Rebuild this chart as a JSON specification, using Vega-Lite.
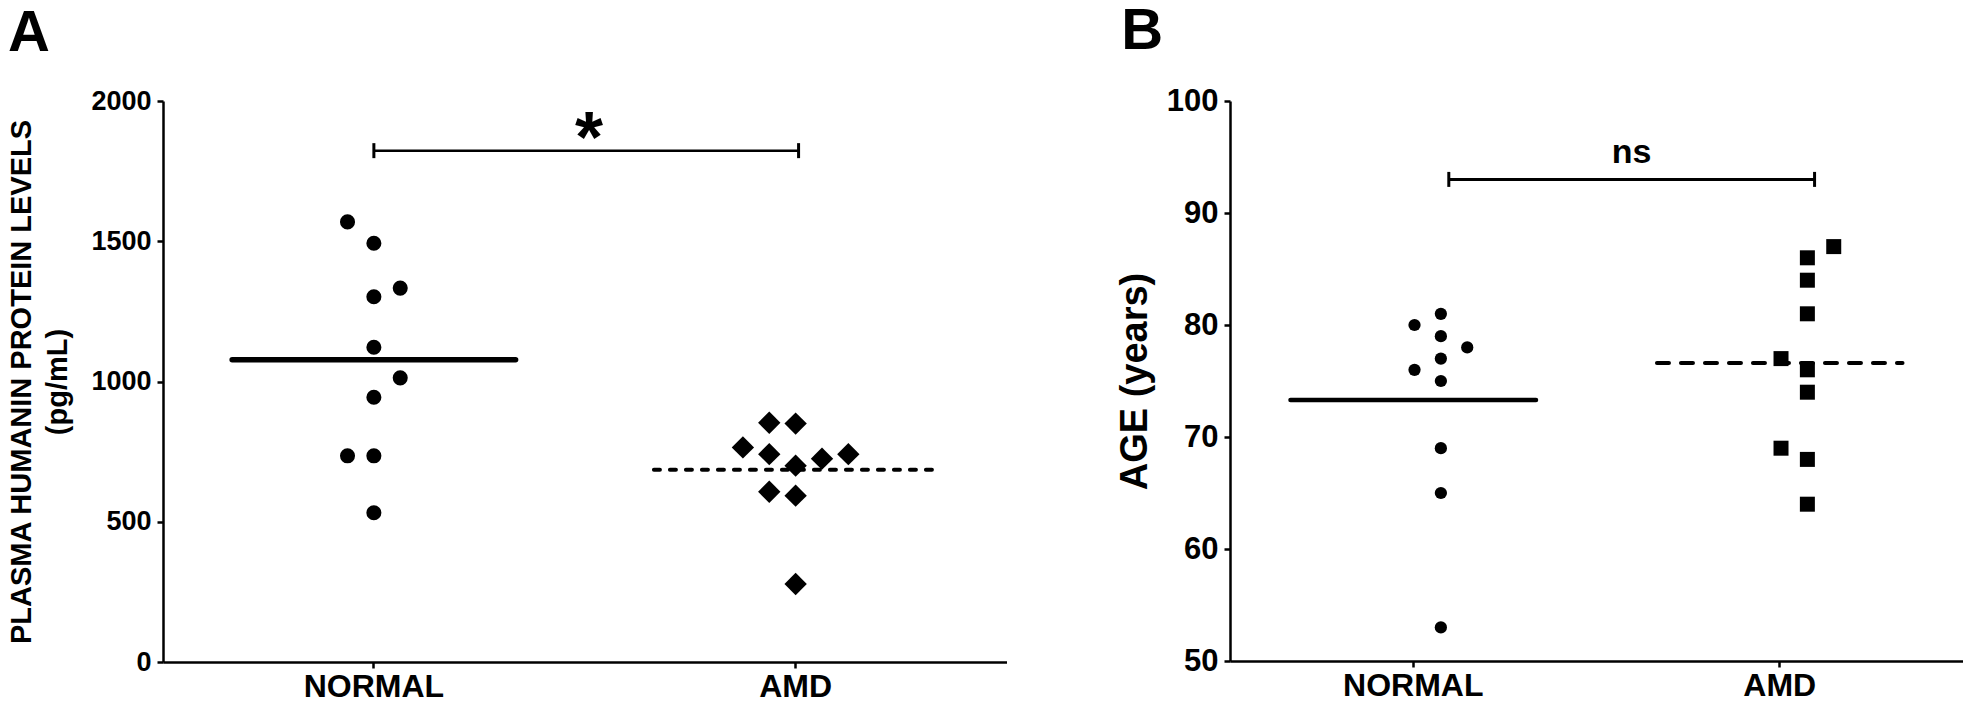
{
  "$schema": "https://vega.github.io/schema/vega-lite/v6.json",
  "background": "white",
  "padding": {"left": 7, "top": 3, "right": 0, "bottom": 0},
  "config": {
    "font": "Liberation Sans",
    "view": {"stroke": null},
    "axis": {"domainColor": "black", "domainWidth": 2.5, "tickColor": "black", "tickWidth": 2.5, "tickSize": 6, "labelColor": "black", "labelFontWeight": "bold", "titleFontWeight": "bold", "titleColor": "black", "grid": false, "labelFont": "Liberation Sans", "titleFont": "Liberation Sans"},
    "title": {"font": "Liberation Sans", "fontWeight": "bold", "fontSize": 58, "anchor": "start", "frame": "bounds", "color": "black", "offset": 24},
    "concat": {"spacing": 109}
  },
  "datasets": {
    "humanin": [
      {"group": "NORMAL", "value": 1569, "col": -1},
      {"group": "NORMAL", "value": 1493, "col": 0},
      {"group": "NORMAL", "value": 1333, "col": 1},
      {"group": "NORMAL", "value": 1302, "col": 0},
      {"group": "NORMAL", "value": 1122, "col": 0},
      {"group": "NORMAL", "value": 1013, "col": 1},
      {"group": "NORMAL", "value": 944, "col": 0},
      {"group": "NORMAL", "value": 735, "col": -1},
      {"group": "NORMAL", "value": 735, "col": 0},
      {"group": "NORMAL", "value": 532, "col": 0},
      {"group": "AMD", "value": 853, "col": -1},
      {"group": "AMD", "value": 850, "col": 0},
      {"group": "AMD", "value": 765, "col": -2},
      {"group": "AMD", "value": 741, "col": -1},
      {"group": "AMD", "value": 725, "col": 1},
      {"group": "AMD", "value": 741, "col": 2},
      {"group": "AMD", "value": 700, "col": 0},
      {"group": "AMD", "value": 607, "col": -1},
      {"group": "AMD", "value": 593, "col": 0},
      {"group": "AMD", "value": 278, "col": 0}
    ],
    "age": [
      {"group": "NORMAL", "value": 81, "col": 0},
      {"group": "NORMAL", "value": 80, "col": -1},
      {"group": "NORMAL", "value": 79, "col": 0},
      {"group": "NORMAL", "value": 78, "col": 1},
      {"group": "NORMAL", "value": 77, "col": 0},
      {"group": "NORMAL", "value": 76, "col": -1},
      {"group": "NORMAL", "value": 75, "col": 0},
      {"group": "NORMAL", "value": 69, "col": 0},
      {"group": "NORMAL", "value": 65, "col": 0},
      {"group": "NORMAL", "value": 53, "col": 0},
      {"group": "AMD", "value": 87, "col": 1},
      {"group": "AMD", "value": 86, "col": 0},
      {"group": "AMD", "value": 84, "col": 0},
      {"group": "AMD", "value": 81, "col": 0},
      {"group": "AMD", "value": 77, "col": -1},
      {"group": "AMD", "value": 76, "col": 0},
      {"group": "AMD", "value": 74, "col": 0},
      {"group": "AMD", "value": 69, "col": -1},
      {"group": "AMD", "value": 68, "col": 0},
      {"group": "AMD", "value": 64, "col": 0}
    ],
    "sigA": [{"from": "NORMAL", "to": "AMD", "value": 1823, "label": "*"}],
    "sigB": [{"from": "NORMAL", "to": "AMD", "value": 93, "label": "ns"}]
  },
  "hconcat": [
    {
      "width": 843.5,
      "height": 561,
      "title": {"text": "A"},
      "data": {"name": "humanin"},
      "encoding": {
        "x": {"field": "group", "type": "nominal", "scale": {"type": "band", "domain": ["NORMAL", "AMD"], "paddingInner": 0, "paddingOuter": 0}, "axis": {"title": null, "labelAngle": 0, "labelFontSize": 32, "labelPadding": 3}},
        "y": {"field": "value", "type": "quantitative", "scale": {"domain": [0, 2000], "nice": false}, "axis": {"values": [0, 500, 1000, 1500, 2000], "format": "d", "title": ["PLASMA HUMANIN PROTEIN LEVELS", "(pg/mL)"], "titleFontSize": 29, "titleLineHeight": 36, "titlePadding": 18, "labelFontSize": 27, "labelPadding": 6}}
      },
      "layer": [
        {
          "transform": [{"filter": "datum.group === 'NORMAL'"}],
          "mark": {"type": "point", "shape": "circle", "filled": true, "size": 227, "color": "black", "opacity": 1, "strokeWidth": 0},
          "encoding": {"xOffset": {"field": "col", "type": "quantitative", "scale": {"domain": [-8, 8], "nice": false, "zero": false}}}
        },
        {
          "transform": [{"filter": "datum.group === 'AMD'"}],
          "mark": {"type": "point", "shape": "diamond", "filled": true, "size": 500, "color": "black", "opacity": 1, "strokeWidth": 0},
          "encoding": {"xOffset": {"field": "col", "type": "quantitative", "scale": {"domain": [-8, 8], "nice": false, "zero": false}}}
        },
        {
          "transform": [{"aggregate": [{"op": "mean", "field": "value", "as": "value"}], "groupby": ["group"]}, {"filter": "datum.group === 'NORMAL'"}],
          "mark": {"type": "rule", "color": "black", "strokeWidth": 5.5, "strokeCap": "round"},
          "encoding": {
            "x": {"field": "group", "type": "nominal", "bandPosition": 0.164, "scale": {"type": "band", "domain": ["NORMAL", "AMD"], "paddingInner": 0, "paddingOuter": 0}, "axis": {"title": null, "labelAngle": 0, "labelFontSize": 32, "labelPadding": 3}},
            "x2": {"field": "group", "bandPosition": 0.836}
          }
        },
        {
          "transform": [{"aggregate": [{"op": "mean", "field": "value", "as": "value"}], "groupby": ["group"]}, {"filter": "datum.group === 'AMD'"}],
          "mark": {"type": "rule", "color": "black", "strokeWidth": 4, "strokeCap": "round", "strokeDash": [6, 10]},
          "encoding": {
            "x": {"field": "group", "type": "nominal", "bandPosition": 0.164, "scale": {"type": "band", "domain": ["NORMAL", "AMD"], "paddingInner": 0, "paddingOuter": 0}, "axis": {"title": null, "labelAngle": 0, "labelFontSize": 32, "labelPadding": 3}},
            "x2": {"field": "group", "bandPosition": 0.836}
          }
        },
        {
          "data": {"name": "sigA"},
          "mark": {"type": "rule", "color": "black", "strokeWidth": 2.5},
          "encoding": {
            "x": {"field": "from", "type": "nominal", "bandPosition": 0.5, "scale": {"type": "band", "domain": ["NORMAL", "AMD"], "paddingInner": 0, "paddingOuter": 0}, "axis": {"title": null, "labelAngle": 0, "labelFontSize": 32, "labelPadding": 3}},
            "x2": {"field": "to", "bandPosition": 0.507}
          }
        },
        {
          "data": {"name": "sigA"},
          "mark": {"type": "point", "shape": "M0,-1L0,1", "filled": false, "size": 225, "color": "black", "strokeWidth": 3, "opacity": 1},
          "encoding": {
            "x": {"field": "from", "type": "nominal", "bandPosition": 0.5, "scale": {"type": "band", "domain": ["NORMAL", "AMD"], "paddingInner": 0, "paddingOuter": 0}, "axis": {"title": null, "labelAngle": 0, "labelFontSize": 32, "labelPadding": 3}}
          }
        },
        {
          "data": {"name": "sigA"},
          "mark": {"type": "point", "shape": "M0,-1L0,1", "filled": false, "size": 225, "color": "black", "strokeWidth": 3, "opacity": 1},
          "encoding": {
            "x": {"field": "to", "type": "nominal", "bandPosition": 0.507, "scale": {"type": "band", "domain": ["NORMAL", "AMD"], "paddingInner": 0, "paddingOuter": 0}, "axis": {"title": null, "labelAngle": 0, "labelFontSize": 32, "labelPadding": 3}}
          }
        },
        {
          "data": {"name": "sigA"},
          "mark": {"type": "text", "fontSize": 72, "fontWeight": "bold", "baseline": "alphabetic", "align": "center", "dy": 11, "color": "black"},
          "encoding": {
            "x": {"field": "from", "type": "nominal", "bandPosition": 1.01, "scale": {"type": "band", "domain": ["NORMAL", "AMD"], "paddingInner": 0, "paddingOuter": 0}, "axis": {"title": null, "labelAngle": 0, "labelFontSize": 32, "labelPadding": 3}},
            "text": {"field": "label"}
          }
        }
      ]
    },
    {
      "width": 733,
      "height": 560,
      "title": {"text": "B", "dx": 5},
      "data": {"name": "age"},
      "encoding": {
        "x": {"field": "group", "type": "nominal", "scale": {"type": "band", "domain": ["NORMAL", "AMD"], "paddingInner": 0, "paddingOuter": 0}, "axis": {"title": null, "labelAngle": 0, "labelFontSize": 32, "labelPadding": 3}},
        "y": {"field": "value", "type": "quantitative", "scale": {"domain": [50, 100], "nice": false, "zero": false}, "axis": {"values": [50, 60, 70, 80, 90, 100], "title": "AGE (years)", "titleFontSize": 38, "titlePadding": 12, "labelFontSize": 31, "labelPadding": 6}}
      },
      "layer": [
        {
          "transform": [{"filter": "datum.group === 'NORMAL'"}],
          "mark": {"type": "point", "shape": "circle", "filled": true, "size": 150, "color": "black", "opacity": 1, "strokeWidth": 0},
          "encoding": {"xOffset": {"field": "col", "type": "quantitative", "scale": {"domain": [-8, 8], "nice": false, "zero": false}}}
        },
        {
          "transform": [{"filter": "datum.group === 'AMD'"}],
          "mark": {"type": "point", "shape": "square", "filled": true, "size": 225, "color": "black", "opacity": 1, "strokeWidth": 0},
          "encoding": {"xOffset": {"field": "col", "type": "quantitative", "scale": {"domain": [-8, 8], "nice": false, "zero": false}}}
        },
        {
          "transform": [{"aggregate": [{"op": "mean", "field": "value", "as": "value"}], "groupby": ["group"]}, {"filter": "datum.group === 'NORMAL'"}],
          "mark": {"type": "rule", "color": "black", "strokeWidth": 4.5, "strokeCap": "round"},
          "encoding": {
            "x": {"field": "group", "type": "nominal", "bandPosition": 0.165, "scale": {"type": "band", "domain": ["NORMAL", "AMD"], "paddingInner": 0, "paddingOuter": 0}, "axis": {"title": null, "labelAngle": 0, "labelFontSize": 32, "labelPadding": 3}},
            "x2": {"field": "group", "bandPosition": 0.835}
          }
        },
        {
          "transform": [{"aggregate": [{"op": "mean", "field": "value", "as": "value"}], "groupby": ["group"]}, {"filter": "datum.group === 'AMD'"}],
          "mark": {"type": "rule", "color": "black", "strokeWidth": 4, "strokeCap": "round", "strokeDash": [12, 12]},
          "encoding": {
            "x": {"field": "group", "type": "nominal", "bandPosition": 0.165, "scale": {"type": "band", "domain": ["NORMAL", "AMD"], "paddingInner": 0, "paddingOuter": 0}, "axis": {"title": null, "labelAngle": 0, "labelFontSize": 32, "labelPadding": 3}},
            "x2": {"field": "group", "bandPosition": 0.835}
          }
        },
        {
          "data": {"name": "sigB"},
          "mark": {"type": "rule", "color": "black", "strokeWidth": 3},
          "encoding": {
            "x": {"field": "from", "type": "nominal", "bandPosition": 0.597, "scale": {"type": "band", "domain": ["NORMAL", "AMD"], "paddingInner": 0, "paddingOuter": 0}, "axis": {"title": null, "labelAngle": 0, "labelFontSize": 32, "labelPadding": 3}},
            "x2": {"field": "to", "bandPosition": 0.595}
          }
        },
        {
          "data": {"name": "sigB"},
          "mark": {"type": "point", "shape": "M0,-1L0,1", "filled": false, "size": 225, "color": "black", "strokeWidth": 3, "opacity": 1},
          "encoding": {
            "x": {"field": "from", "type": "nominal", "bandPosition": 0.597, "scale": {"type": "band", "domain": ["NORMAL", "AMD"], "paddingInner": 0, "paddingOuter": 0}, "axis": {"title": null, "labelAngle": 0, "labelFontSize": 32, "labelPadding": 3}}
          }
        },
        {
          "data": {"name": "sigB"},
          "mark": {"type": "point", "shape": "M0,-1L0,1", "filled": false, "size": 225, "color": "black", "strokeWidth": 3, "opacity": 1},
          "encoding": {
            "x": {"field": "to", "type": "nominal", "bandPosition": 0.595, "scale": {"type": "band", "domain": ["NORMAL", "AMD"], "paddingInner": 0, "paddingOuter": 0}, "axis": {"title": null, "labelAngle": 0, "labelFontSize": 32, "labelPadding": 3}}
          }
        },
        {
          "data": {"name": "sigB"},
          "mark": {"type": "text", "fontSize": 34, "fontWeight": "bold", "baseline": "alphabetic", "align": "center", "dy": -16, "color": "black"},
          "encoding": {
            "x": {"field": "from", "type": "nominal", "bandPosition": 1.096, "scale": {"type": "band", "domain": ["NORMAL", "AMD"], "paddingInner": 0, "paddingOuter": 0}, "axis": {"title": null, "labelAngle": 0, "labelFontSize": 32, "labelPadding": 3}},
            "text": {"field": "label"}
          }
        }
      ]
    }
  ]
}
